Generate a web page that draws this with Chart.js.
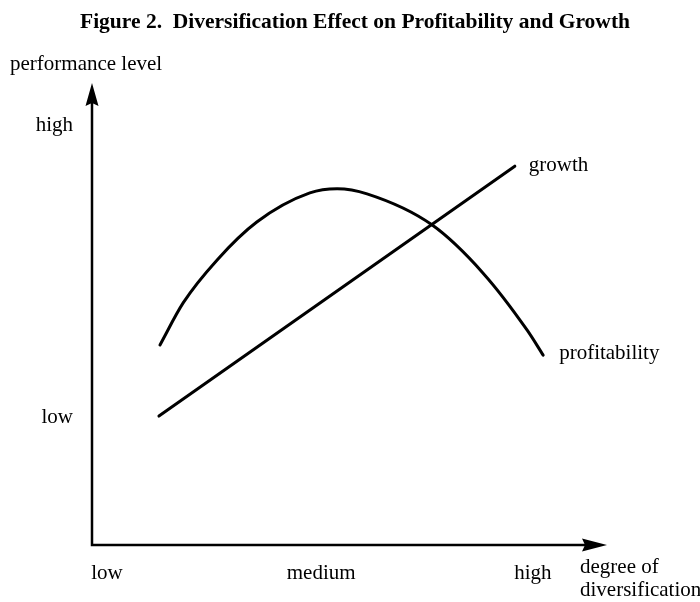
<!DOCTYPE html>
<html>
<head>
<meta charset="utf-8">
<script src="https://cdn.jsdelivr.net/npm/chart.js@4/dist/chart.umd.min.js"></script>
<style>
html,body{margin:0;padding:0;background:#fff;}
#wrap{width:700px;height:602px;position:relative;}
</style>
</head>
<body>
<div id="wrap"><canvas id="c" width="700" height="602"></canvas></div>
<script>
// ---- data ----
const titleText = 'Figure 2.  Diversification Effect on Profitability and Growth';
const xAxisTitle = ['degree of', 'diversification'];
const yAxisTitle = 'performance level';
const xTickValues = [0.29, 4.45, 8.56];
const xTickLabels = ['low', 'medium', 'high'];
const yTickValues = [9.09, 2.77];
const yTickLabels = ['high', 'low'];
const seriesNames = ['profitability', 'growth'];
const profitX = [1.32, 1.77, 2.43, 3.20, 4.23, 4.76, 5.34, 6.60, 7.59, 8.45, 8.76];
const profitY = [4.33, 5.24, 6.17, 6.99, 7.62, 7.71, 7.60, 6.93, 5.89, 4.65, 4.11];
const growthX = [1.30, 8.21];
const growthY = [2.79, 8.20];

const toPts = (xs, ys) => xs.map((x, i) => ({x: x, y: ys[i]}));
const SERIF = '"Liberation Serif", "DejaVu Serif", serif';

const decor = {
  id: 'decor',
  afterDatasetsDraw(chart) {
    const ctx = chart.ctx;
    const xs = chart.scales.x, ys = chart.scales.y;
    const x0 = xs.getPixelForValue(xs.min), x1 = xs.getPixelForValue(xs.max);
    const y0 = ys.getPixelForValue(ys.min), y1 = ys.getPixelForValue(ys.max);
    ctx.save();
    ctx.strokeStyle = '#000';
    ctx.fillStyle = '#000';
    ctx.lineWidth = 2.5;
    ctx.lineCap = 'butt';
    // axes
    ctx.beginPath();
    ctx.moveTo(x0, y1 + 18);
    ctx.lineTo(x0, y0);
    ctx.lineTo(x1 - 20, y0);
    ctx.stroke();
    // arrow heads
    ctx.beginPath();
    ctx.moveTo(x0, y1);
    ctx.lineTo(x0 + 6.5, y1 + 23);
    ctx.lineTo(x0, y1 + 20);
    ctx.lineTo(x0 - 6.5, y1 + 23);
    ctx.closePath();
    ctx.fill();
    ctx.beginPath();
    ctx.moveTo(x1, y0);
    ctx.lineTo(x1 - 25, y0 - 6.5);
    ctx.lineTo(x1 - 22, y0);
    ctx.lineTo(x1 - 25, y0 + 6.5);
    ctx.closePath();
    ctx.fill();

    // title
    ctx.font = 'bold 21.5px ' + SERIF;
    ctx.textAlign = 'center';
    ctx.textBaseline = 'middle';
    ctx.fillText(titleText, 355, 22);

    ctx.font = '21px ' + SERIF;
    // y axis title
    ctx.textAlign = 'left';
    ctx.fillText(yAxisTitle, 10, 64);
    // y tick labels
    ctx.textAlign = 'right';
    yTickValues.forEach((v, i) => ctx.fillText(yTickLabels[i], x0 - 19, ys.getPixelForValue(v)));
    // x tick labels
    ctx.textAlign = 'center';
    xTickValues.forEach((v, i) => ctx.fillText(xTickLabels[i], xs.getPixelForValue(v), y0 + 28));
    // x axis title
    ctx.textAlign = 'left';
    ctx.fillText(xAxisTitle[0], x1 - 27, y0 + 22);
    ctx.fillText(xAxisTitle[1], x1 - 27, y0 + 45);
    // series labels at line ends
    const pEnd = {x: profitX[profitX.length - 1], y: profitY[profitY.length - 1]};
    const gEnd = {x: growthX[growthX.length - 1], y: growthY[growthY.length - 1]};
    ctx.fillText(seriesNames[0], xs.getPixelForValue(pEnd.x) + 16, ys.getPixelForValue(pEnd.y) - 2);
    ctx.fillText(seriesNames[1], xs.getPixelForValue(gEnd.x) + 14, ys.getPixelForValue(gEnd.y) - 1);
    ctx.restore();
  }
};

new Chart(document.getElementById('c'), {
  type: 'scatter',
  data: {
    datasets: [
      {label: seriesNames[0], data: toPts(profitX, profitY), showLine: true, cubicInterpolationMode: 'monotone',
       borderColor: '#000', borderWidth: 3, borderCapStyle: 'round', borderJoinStyle: 'round', pointRadius: 0, fill: false},
      {label: seriesNames[1], data: toPts(growthX, growthY), showLine: true, tension: 0,
       borderColor: '#000', borderWidth: 3, borderCapStyle: 'round', pointRadius: 0, fill: false}
    ]
  },
  options: {
    responsive: false,
    animation: false,
    layout: {padding: {left: 92, right: 93, top: 83, bottom: 57}},
    plugins: {legend: {display: false}, tooltip: {enabled: false}, title: {display: false}},
    scales: {
      x: {type: 'linear', min: 0, max: 10, display: false},
      y: {type: 'linear', min: 0, max: 10, display: false}
    }
  },
  plugins: [decor]
});
</script>
</body>
</html>
